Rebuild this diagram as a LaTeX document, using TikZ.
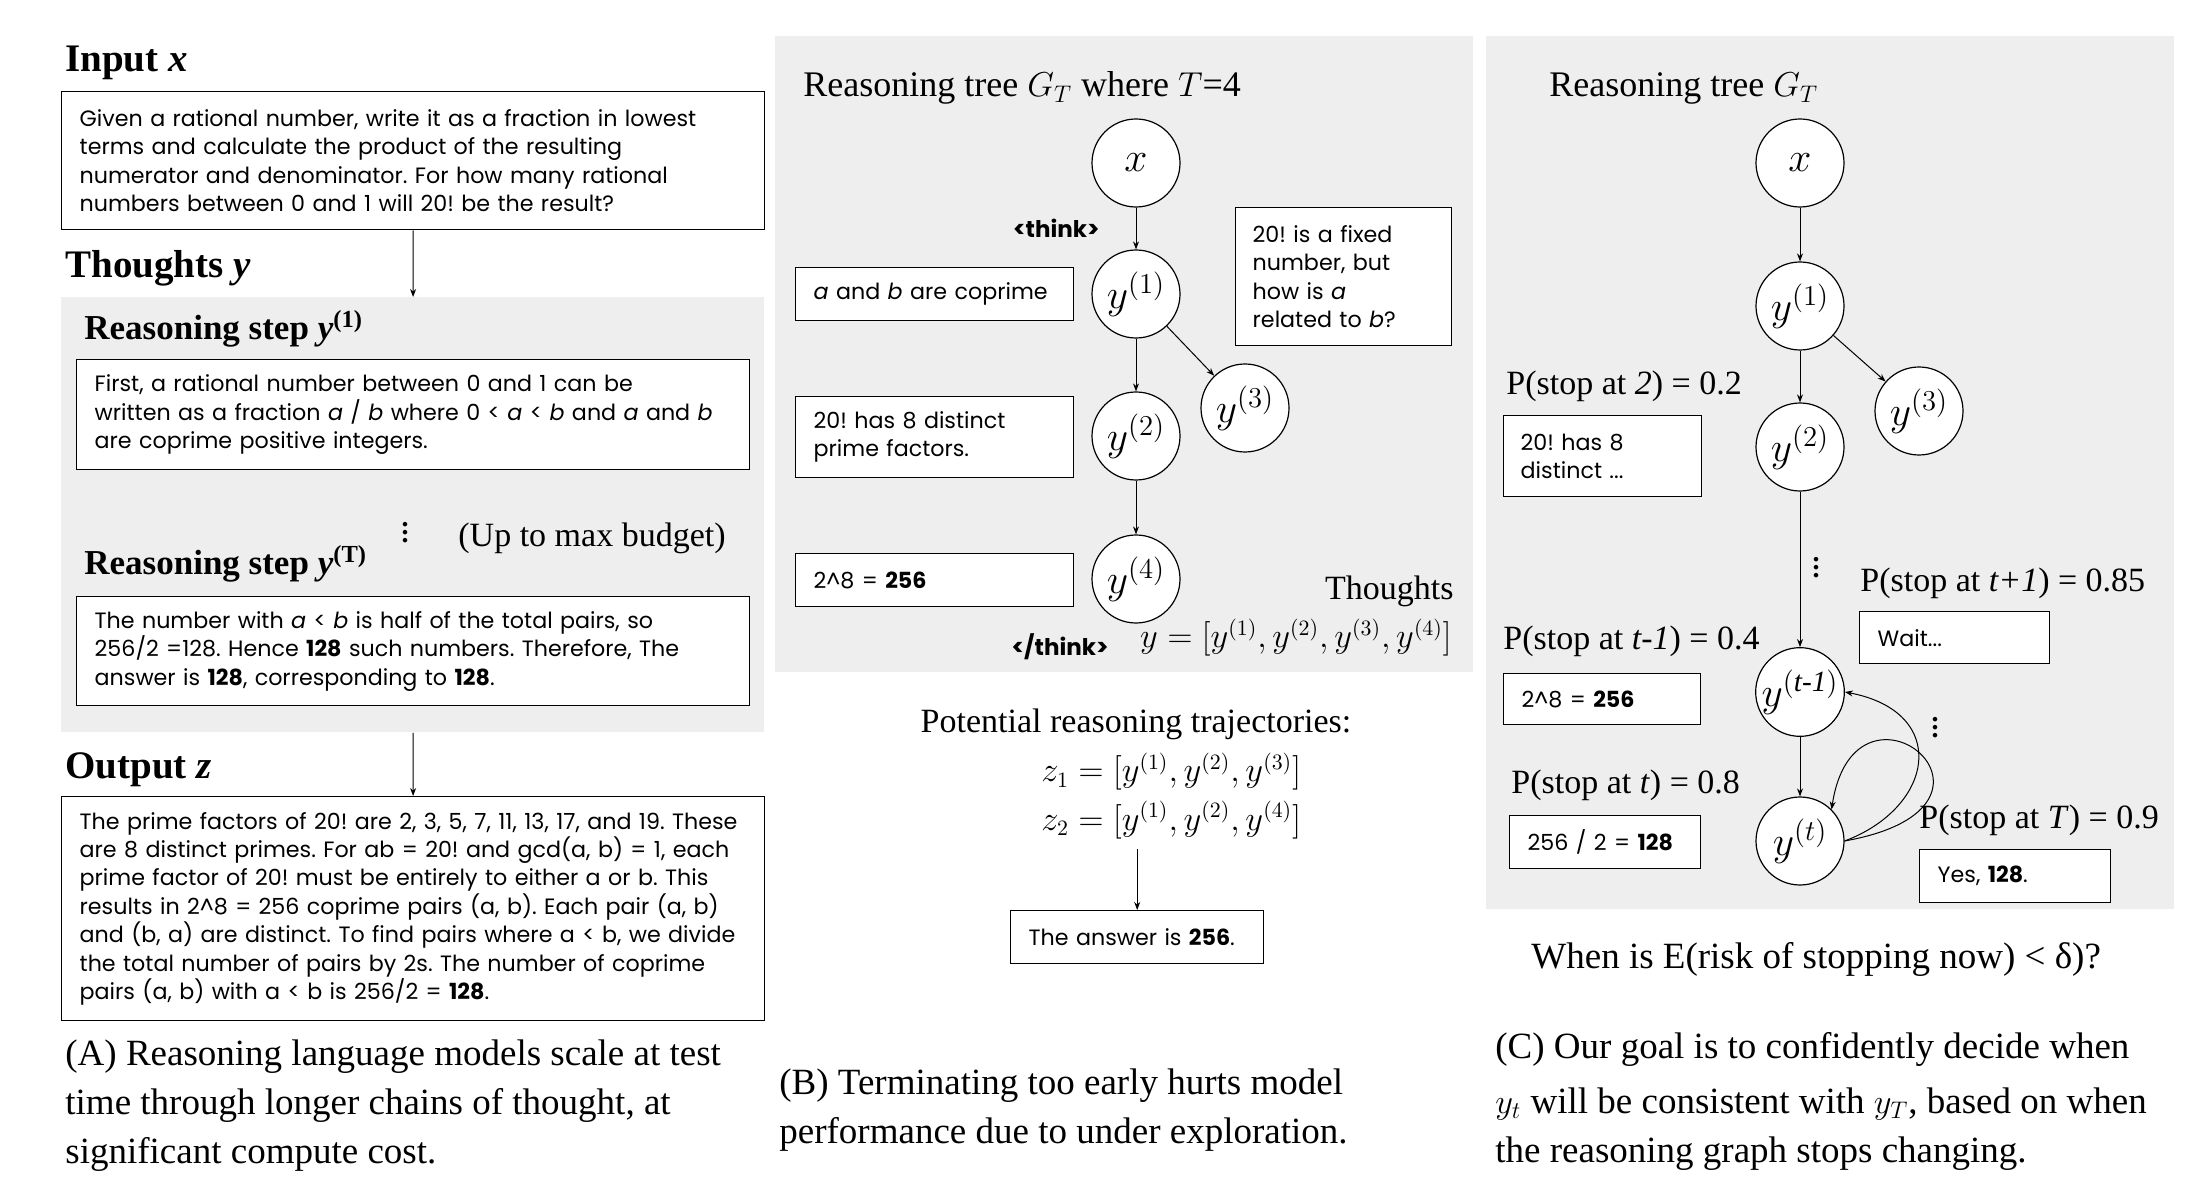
\documentclass[tikz,border=0pt]{standalone}
\usepackage{amsmath}
\usepackage{fontspec}
\setmainfont{Liberation Serif}
\newfontfamily\boxfont{Poppins}
\usetikzlibrary{arrows.meta,positioning}
\definecolor{panelgray}{HTML}{EEEEEE}
\frenchspacing

\begin{document}
\begin{tikzpicture}[x=0.5pt, y=-0.5pt]
    \tikzstyle{panel} = [fill=panelgray, anchor=north west, inner sep=0pt]
    \tikzstyle{txtbox} = [draw, line width=0.7pt, fill=white, anchor=north west, align=left, inner xsep=9pt, inner ysep=0pt, font=\boxfont\fontsize{11.1}{14.2}\selectfont]
    \tikzstyle{thought} = [circle, draw, fill=white, line width=0.6pt, minimum size=44pt, inner sep=0pt, font=\fontsize{21}{24}\selectfont]
    \tikzstyle{link} = [-{Stealth[length=4pt, width=3pt]}, line width=0.5pt]
    \tikzstyle{heading} = [anchor=base west, inner sep=0pt, font=\bfseries\fontsize{19.5}{22}\selectfont]
    \tikzstyle{subheading} = [anchor=base west, inner sep=0pt, font=\bfseries\fontsize{17.5}{20}\selectfont]
    \tikzstyle{serifnote} = [anchor=base west, inner sep=0pt, font=\fontsize{17}{20}\selectfont]
    \tikzstyle{mathnote} = [anchor=base west, inner sep=0pt, font=\fontsize{16}{20}\selectfont]
    \tikzstyle{capt} = [anchor=base west, inner sep=0pt, align=left, font=\fontsize{18.5}{24.5}\selectfont]
    \tikzstyle{tag} = [inner sep=0pt, font=\boxfont\bfseries\fontsize{11.5}{13}\selectfont]
    \tikzstyle{dots} = [anchor=base, inner sep=0pt, font=\bfseries\fontsize{14}{14}\selectfont]

    \useasboundingbox (0,0) rectangle (2206,1202);

    % (A) input, thoughts, output
    \node [panel, minimum width=351.5pt, minimum height=217.5pt] (panelA) at (61,297) {};
    \node [heading] (inputA) at (65,72) {Input \textit{x}};
    \node [txtbox, text width=333.5pt, minimum height=69pt] (boxA1) at (61,91)
        {Given a rational number, write it as a fraction in lowest\\
         terms and calculate the product of the resulting\\
         numerator and denominator. For how many rational\\
         numbers between 0 and 1 will 20! be the result?};
    \node [heading] (thoughtsA) at (65,278) {Thoughts \textit{y}};
    \node [subheading] (stepA1) at (84,340) {Reasoning step \textit{y}\textsuperscript{(1)}};
    \node [txtbox, text width=318.5pt, minimum height=55pt] (boxA2) at (76,359)
        {First, a rational number between 0 and 1 can be\\
         written as a fraction \textit{a} / \textit{b} where 0 < \textit{a} < \textit{b} and \textit{a} and \textit{b}\\
         are coprime positive integers.};
    \node [dots] (dotsA) at (405,543) {\vdots};
    \node [serifnote] (budgetA) at (458,547) {(Up to max budget)};
    \node [subheading] (stepAT) at (84,575) {Reasoning step \textit{y}\textsuperscript{(T)}};
    \node [txtbox, text width=318.5pt, minimum height=54.5pt] (boxA3) at (76,596)
        {The number with \textit{a} < \textit{b} is half of the total pairs, so\\
         256/2 =128. Hence \textbf{128} such numbers. Therefore, The\\
         answer is \textbf{128}, corresponding to \textbf{128}.};
    \node [heading] (outputA) at (65,778) {Output \textit{z}};
    \node [txtbox, text width=333.5pt, minimum height=112pt] (boxA4) at (61,796)
        {The prime factors of 20! are 2, 3, 5, 7, 11, 13, 17, and 19. These\\
         are 8 distinct primes. For ab = 20! and gcd(a, b) = 1, each\\
         prime factor of 20! must be entirely to either a or b. This\\
         results in 2\textasciicircum 8 = 256 coprime pairs (a, b). Each pair (a, b)\\
         and (b, a) are distinct. To find pairs where a < b, we divide\\
         the total number of pairs by 2s. The number of coprime\\
         pairs (a, b) with a < b is 256/2 = \textbf{128}.};
    \draw [link] (boxA1) -- (panelA);
    \draw [link] (panelA) -- (boxA4);
    \node [capt] (captA) at (65,1163)
        {(A) Reasoning language models scale at test\\
         time through longer chains of thought, at\\
         significant compute cost.};

    % (B) reasoning tree with T=4
    \node [panel, minimum width=349pt, minimum height=318pt] (panelB) at (775,36) {};
    \node [serifnote, font=\fontsize{18}{20}\selectfont] (titleB) at (803,97) {Reasoning tree $G_T$ where $T$=4};
    \node [thought] (bx) at (1136,163) {$x$};
    \node [thought] (by1) at (1136,294) {$y^{(1)}$};
    \node [thought] (by2) at (1136,436) {$y^{(2)}$};
    \node [thought] (by3) at (1245,408) {$y^{(3)}$};
    \node [thought] (by4) at (1136,579) {$y^{(4)}$};
    \draw [link] (bx) -- node [tag, left=18pt] {<think>} (by1);
    \draw [link] (by1) -- (by2);
    \draw [link] (by1) -- (by3);
    \draw [link] (by2) -- (by4);
    \node [txtbox, text width=121pt, minimum height=26.5pt] (boxB1) at (795,267)
        {\textit{a} and \textit{b} are coprime};
    \node [txtbox, inner xsep=8.5pt, text width=91pt, minimum height=69pt] (boxB2) at (1235,207)
        {20! is a fixed\\number, but\\how is \textit{a}\\related to \textit{b}?};
    \node [txtbox, text width=121pt, minimum height=40.5pt] (boxB3) at (795,396)
        {20! has 8 distinct\\prime factors.};
    \node [txtbox, text width=121pt, minimum height=26.5pt] (boxB4) at (795,553)
        {2\textasciicircum 8 = \textbf{256}};
    \node [tag] (endthink) at (1060,647) {</think>};
    \node [serifnote, anchor=base east] (thoughtsB) at (1454,600) {Thoughts};
    \node [mathnote, anchor=base east] (seqB) at (1452,648) {$y = [y^{(1)}, y^{(2)}, y^{(3)}, y^{(4)}]$};
    \node [serifnote, anchor=base] (trajB) at (1136,733) {Potential reasoning trajectories:};
    \node [mathnote] (z1) at (1041,782) {$z_1 = [y^{(1)}, y^{(2)}, y^{(3)}]$};
    \node [mathnote] (z2) at (1041,830) {$z_2 = [y^{(1)}, y^{(2)}, y^{(4)}]$};
    \node [txtbox, text width=108.5pt, minimum height=26.5pt] (ansB) at (1010,910)
        {The answer is \textbf{256}.};
    \draw [link, shorten <=5pt] (z2.south -| ansB.north) -- (ansB);
    \node [capt] (captB) at (779,1143)
        {(B) Terminating too early hurts model\\
         performance due to under exploration.};

    % (C) stopping probabilities along the tree
    \node [panel, minimum width=344pt, minimum height=436.5pt] (panelC) at (1486,36) {};
    \node [serifnote, font=\fontsize{18}{20}\selectfont] (titleC) at (1549,97) {Reasoning tree $G_T$};
    \node [thought] (cx) at (1800,163) {$x$};
    \node [thought] (cy1) at (1800,306) {$y^{(1)}$};
    \node [thought] (cy2) at (1800,447) {$y^{(2)}$};
    \node [thought] (cy3) at (1919,411) {$y^{(3)}$};
    \node [thought] (cyt1) at (1800,692) {$y^{(\textit{t-1})}$};
    \node [thought] (cyt) at (1800,841) {$y^{(t)}$};
    \draw [link] (cx) -- (cy1);
    \draw [link] (cy1) -- (cy2);
    \draw [link] (cy1) -- (cy3);
    \draw [link] (cy2) -- (cyt1);
    \draw [link] (cyt1) -- (cyt);
    \draw [link] (cyt.east) .. controls (1935,807) and (1950,712) .. (cyt1.east);
    \draw [link] (cyt.east) .. controls (2040,806) and (1855,655) .. (cyt.45);
    \node [serifnote] (p2) at (1506,395) {P(stop at \textit{2}) = 0.2};
    \node [txtbox, inner xsep=8.5pt, text width=82pt, minimum height=40.5pt] (boxC1) at (1503,415)
        {20! has 8\\distinct ...};
    \node [dots] (dotsC1) at (1816,578) {\vdots};
    \node [serifnote] (pt1) at (1860,592) {P(stop at \textit{t+1}) = 0.85};
    \node [txtbox, text width=77pt, minimum height=26pt] (boxC2) at (1859,611) {Wait...};
    \node [serifnote] (ptm1) at (1503,650) {P(stop at \textit{t-1}) = 0.4};
    \node [txtbox, text width=80.5pt, minimum height=25.5pt] (boxC3) at (1503,673)
        {2\textasciicircum 8 = \textbf{256}};
    \node [dots] (dotsC2) at (1935,738) {\vdots};
    \node [serifnote] (pt) at (1511,793) {P(stop at \textit{t}) = 0.8};
    \node [txtbox, text width=77.5pt, minimum height=26.5pt] (boxC4) at (1509,815)
        {256 / 2 = \textbf{128}};
    \node [serifnote] (pT) at (1919,828) {P(stop at \textit{T}) = 0.9};
    \node [txtbox, text width=77.5pt, minimum height=26.5pt] (boxC5) at (1919,849)
        {Yes, \textbf{128}.};
    \node [serifnote, font=\fontsize{18.5}{20}\selectfont] (riskC) at (1531,968) {When is E(risk of stopping now) < δ)?};
    \node [capt] (captC) at (1495,1162)
        {(C) Our goal is to confidently decide when\\[3pt]
         $y_t$ will be consistent with $y_T$, based on when\\
         the reasoning graph stops changing.};
\end{tikzpicture}
\end{document}
